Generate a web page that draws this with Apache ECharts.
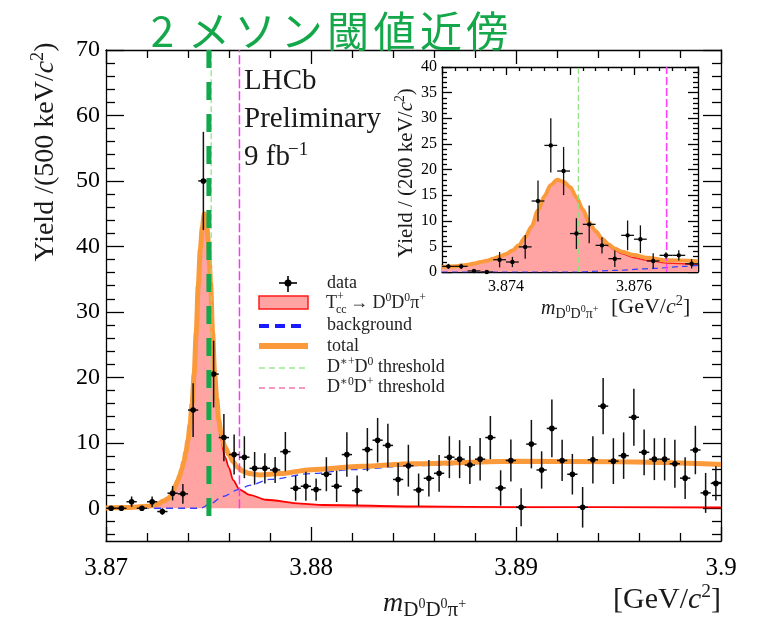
<!DOCTYPE html>
<html><head><meta charset="utf-8">
<script src="https://cdn.jsdelivr.net/npm/echarts@6/dist/echarts.min.js"></script>
<style>html,body{margin:0;padding:0;background:#fff}#c{width:761px;height:623px}</style>
</head><body><div id="c"></div>
<script>
const SERIF = '"Liberation Serif","DejaVu Serif",serif';
const CJK = '"Noto Sans CJK JP","Noto Sans CJK SC",sans-serif';

// ---------- main plot: 500 keV bins from 3.870 GeV ----------
const mainBinStart = 3.870, mainBinWidth = 0.0005;
const mainYield = [0,0,1,0,1,-0.5,2.3,2.2,15,50,
  20.5,10.8,8.2,7.8,6.1,6.1,5.85,8.65,3.05,3.36,
  2.85,5.2,3.36,8.2,2.7,8.96,10.4,9.6,4.4,6.5,
  2.8,4.58,5.34,7.8,7.5,6.6,7.5,10.8,3.1,7.3,
  0.15,9.8,5.85,12.2,7.3,5.2,0.15,7.4,15.6,7.2,
  8.04,13.9,8.55,7.5,7.5,6.8,4.6,8.9,2.35,3.8];
const mainErr = [0,0,0.8,0.3,0.8,0.5,1.1,1.5,4.1,7.5,
  5.1,3.6,3.05,3.2,2.5,2.3,2.0,3.0,1.9,2.2,
  1.7,2.6,2.4,3.4,2.3,3.3,3.4,3.3,2.5,3.2,
  2.5,2.8,2.8,3.2,2.9,2.9,3.25,3.3,2.7,3.2,
  2.9,3.7,2.85,4.4,3.15,3.1,3.1,3.6,4.3,3.5,
  3.55,4.35,3.5,3.2,3.25,3.65,3.2,3.7,3.05,2.6];
const mainSignal = [[3.8700,0.05],[3.8710,0.1],[3.8720,0.3],[3.8725,0.6],[3.8728,1.1],[3.8730,1.4],
  [3.8731,1.7],[3.8732,2.1],[3.8733,2.8],[3.8734,3.5],[3.8735,4.2],[3.8736,5.0],[3.8737,6.0],
  [3.8738,7.2],[3.8739,8.6],[3.8740,10.4],[3.8741,12.8],[3.8742,16.0],[3.8743,20.5],[3.8744,26.8],
  [3.8745,34],[3.8746,39.5],[3.8747,43.0],[3.8748,45],[3.8749,43.8],[3.8750,40.5],[3.8751,34],
  [3.8752,26.2],[3.8753,19.8],[3.8754,16],[3.8755,12.6],[3.8756,10.6],[3.8758,7.9],[3.8760,6.2],
  [3.8762,4.3],[3.8765,2.9],[3.8770,2.06],[3.8778,1.3],[3.8795,0.7],[3.8806,0.5],[3.8853,0.27],
  [3.8900,0.18],[3.9000,0.12]];
const mainTotal = [[3.8700,0.05],[3.8710,0.1],[3.8720,0.3],[3.8725,0.6],[3.8728,1.1],[3.8730,1.4],
  [3.8731,1.7],[3.8732,2.1],[3.8733,2.8],[3.8734,3.5],[3.8735,4.2],[3.8736,5.0],[3.8737,6.0],
  [3.8738,7.2],[3.8739,8.6],[3.8740,10.4],[3.8741,12.8],[3.8742,16.0],[3.8743,20.5],[3.8744,26.8],
  [3.8745,34],[3.8746,39.5],[3.8747,43.0],[3.8748,45],[3.8749,43.8],[3.8750,40.5],[3.8751,34.5],
  [3.8752,26.8],[3.8753,20.5],[3.8754,16.8],[3.8755,13.5],[3.8756,11.6],[3.8758,9.4],[3.8760,8.2],
  [3.8762,7.1],[3.8764,6.3],[3.8767,5.6],[3.8770,5.3],[3.8775,5.1],[3.8785,5.3],[3.8800,5.9],
  [3.8825,6.4],[3.8850,6.8],[3.8900,7.2],[3.8950,7.1],[3.9000,6.7]];
const mainBackground = [[3.8700,0],[3.8746,0],[3.8751,0.7],[3.8757,1.8],[3.8765,2.9],[3.8770,3.5],
  [3.8780,4.4],[3.8800,5.3],[3.8820,5.9],[3.8850,6.5],[3.8900,7.0],[3.8950,6.95],[3.9000,6.55]];

// ---------- inset: 200 keV bins from 3.873 GeV ----------
const insetBinStart = 3.873, insetBinWidth = 0.0002;
const insetYield = [1.1,1.1,0.2,0,2.4,1.95,4.9,13.85,24.7,19.7,7.5,9.3,5.2,2.6,7.15,6.4,2.15,3.25,3.25,1.6];
const insetErr = [0.5,0.5,0.3,0,1.5,1.0,2.3,4.0,5.3,4.7,3.0,3.7,1.6,1.6,2.9,2.7,1.5,0.6,1.0,0.9];
const insetTotal = [[3.8730,1.0],[3.8731,1.05],[3.8732,1.1],[3.8733,1.25],[3.8734,1.4],[3.8735,1.65],
  [3.8736,1.95],[3.8737,2.2],[3.8738,2.6],[3.8739,3.0],[3.8740,3.5],[3.8741,4.2],[3.8742,5.2],
  [3.8743,6.8],[3.8744,8.9],[3.8745,12.0],[3.8746,14.8],[3.8747,17.0],[3.8748,18.0],[3.8749,17.6],
  [3.8750,16.6],[3.8751,14.6],[3.8752,12.2],[3.8753,9.6],[3.8754,8.0],[3.8755,6.5],[3.8756,5.4],
  [3.8757,4.6],[3.8758,4.0],[3.8760,3.3],[3.8762,2.8],[3.8765,2.3],[3.8770,2.1]];
const insetSignal = [[3.8730,1.0],[3.8731,1.05],[3.8732,1.1],[3.8733,1.25],[3.8734,1.4],[3.8735,1.65],
  [3.8736,1.95],[3.8737,2.2],[3.8738,2.6],[3.8739,3.0],[3.8740,3.5],[3.8741,4.2],[3.8742,5.2],
  [3.8743,6.8],[3.8744,8.9],[3.8745,12.0],[3.8746,14.8],[3.8747,17.0],[3.8748,18.0],[3.8749,17.6],
  [3.8750,16.6],[3.8751,14.6],[3.8752,12.2],[3.8753,9.5],[3.8754,7.8],[3.8755,6.3],[3.8756,5.1],
  [3.8757,4.3],[3.8758,3.6],[3.8760,2.8],[3.8762,2.3],[3.8765,1.75],[3.8770,1.4]];
const insetBackground = [[3.8730,0],[3.8751,0],[3.8757,0.3],[3.8763,0.7],[3.8768,1.1],[3.8770,1.3]];

// thresholds and annotation
const thrDstarPlusD0 = 3.87513;
const thrDstar0Dplus = 3.87651;
const annotationX = 3.87502;

// tick labels
const mainXTicks = [3.87, 3.88, 3.89, 3.9];
const mainYTicks = [0, 10, 20, 30, 40, 50, 60, 70];
const insetXTicks = [3.874, 3.876];
const mainYMinor = [];
for (let v = -4; v <= 68; v += 2) if (v % 10 !== 0) mainYMinor.push(v);

const titleText = '2メソン閾値近傍';

// ---------- helpers ----------
const mainData = mainYield.map((v, i) => [mainBinStart + (i + 0.5) * mainBinWidth, v, mainErr[i], mainBinWidth / 2]);
const insetData = insetYield.map((v, i) => [insetBinStart + (i + 0.5) * insetBinWidth, v, insetErr[i], insetBinWidth / 2]);

function errorBars(lw, r) {
  return function (params, api) {
    const x = api.value(0), y = api.value(1), e = api.value(2), hw = api.value(3);
    const c = api.coord([x, y]), t = api.coord([x, y + e]), b = api.coord([x, y - e]);
    const l = api.coord([x - hw, y]), rr = api.coord([x + hw, y]);
    return {type: 'group', children: [
      {type: 'line', shape: {x1: c[0], y1: t[1], x2: c[0], y2: b[1]}, style: {stroke: '#111', lineWidth: lw}},
      {type: 'line', shape: {x1: l[0], y1: c[1], x2: rr[0], y2: c[1]}, style: {stroke: '#111', lineWidth: lw}},
      {type: 'circle', shape: {cx: c[0], cy: c[1], r: r}, style: {fill: '#000'}}
    ]};
  };
}
function curve(data, xi, yi, color, width, z, dash, area) {
  const s = {type: 'line', xAxisIndex: xi, yAxisIndex: yi, data: data, smooth: 0.3, smoothMonotone: 'x',
    symbol: 'none', showSymbol: false, z: z, silent: true,
    lineStyle: {color: color, width: width, type: dash || 'solid'}};
  if (area) s.areaStyle = {color: area, opacity: 1, origin: 'auto'};
  return s;
}
function vline(x, y0, y1, xi, yi, color, width, dash, z) {
  return {type: 'line', xAxisIndex: xi, yAxisIndex: yi, data: [[x, y0], [x, y1]], symbol: 'none', z: z,
    silent: true, lineStyle: {color: color, width: width, type: dash}};
}
function rich(size, color, sub, sup) {
  sub = sub || size * 0.65; sup = sup || size * 0.45;
  return {
    n: {fontSize: size, fontFamily: SERIF, fill: color, lineHeight: size * 1.2},
    i: {fontSize: size, fontFamily: SERIF, fontStyle: 'italic', fill: color, lineHeight: size * 1.2},
    sp: {fontSize: size * 0.65, fontFamily: SERIF, fill: color, verticalAlign: 'top', lineHeight: size * 0.65},
    sb: {fontSize: sub, fontFamily: SERIF, fill: color, verticalAlign: 'bottom', lineHeight: sub},
    ssp: {fontSize: sup, fontFamily: SERIF, fill: color, verticalAlign: 'middle', lineHeight: sup}
  };
}
function txt(x, y, text, size, color, opts) {
  opts = opts || {};
  return {type: 'text', x: x, y: y, rotation: opts.rot || 0, z: 100,
    style: {text: text, rich: rich(size, color, opts.sub, opts.sup), fontSize: size, fontFamily: SERIF, fill: color,
      align: opts.align || 'left', verticalAlign: 'middle'}};
}
const BL = () => ({color: '#000', width: 1.3});
// ticks point into the frame: outward direction with negative length
function xAxisDef(grid, min, max, interval, pos, labels, fontSize, tickLen, minorLen, formatter) {
  return {gridIndex: grid, type: 'value', min: min, max: max, interval: interval, position: pos,
    axisLine: {show: true, onZero: false, lineStyle: BL()},
    axisTick: {show: true, inside: false, length: -tickLen, lineStyle: BL()},
    minorTick: {show: true, splitNumber: 5, length: -minorLen, lineStyle: BL()},
    splitLine: {show: false}, minorSplitLine: {show: false},
    axisLabel: {show: labels, color: '#000', fontFamily: SERIF, fontSize: fontSize, margin: labels === true && fontSize > 20 ? 15 : 7,
      showMinLabel: true, showMaxLabel: true, formatter: formatter}};
}
function yAxisDef(grid, min, max, pos, opts) {
  const a = {gridIndex: grid, type: 'value', min: min, max: max, position: pos,
    axisLine: {show: opts.line !== false, onZero: false, lineStyle: BL()},
    axisTick: {show: true, inside: false, length: -opts.tick, lineStyle: BL()},
    axisLabel: {show: !!opts.labels, color: '#000', fontFamily: SERIF, fontSize: opts.fontSize || 24, margin: opts.margin || 6},
    splitLine: {show: false}, minorSplitLine: {show: false}};
  if (opts.interval) a.interval = opts.interval;
  if (opts.tickValues) a.axisTick.customValues = opts.tickValues;
  if (opts.labelValues) a.axisLabel.customValues = opts.labelValues;
  if (opts.minor) a.minorTick = {show: true, splitNumber: 5, length: -opts.minor, lineStyle: BL()};
  return a;
}

const option = {
  animation: false,
  backgroundColor: '#fff',
  grid: [
    {left: 106, top: 50, width: 615, height: 491, show: false},
    {left: 442, top: 67, width: 256, height: 205, show: false},
    {left: 106, top: 50, width: 615, height: 491, show: false}
  ],
  xAxis: [
    xAxisDef(0, 3.87, 3.9, 0.01, 'bottom', true, 25, 14, 8, v => String(parseFloat(v.toFixed(3)))),
    xAxisDef(0, 3.87, 3.9, 0.01, 'top', false, 25, 14, 8),
    xAxisDef(1, 3.873, 3.877, 0.001, 'bottom', true, 16, 8, 4,
      v => insetXTicks.some(t => Math.abs(t - v) < 1e-7) ? v.toFixed(3) : ''),
    xAxisDef(1, 3.873, 3.877, 0.001, 'top', false, 16, 8, 4),
    {gridIndex: 2, type: 'value', min: 3.87, max: 3.9, show: false}
  ],
  yAxis: [
    yAxisDef(0, -5, 70, 'left', {tick: 18, tickValues: mainYTicks, labels: true, labelValues: mainYTicks, fontSize: 24, margin: 6}),
    yAxisDef(0, -5, 70, 'right', {tick: 18, tickValues: mainYTicks}),
    yAxisDef(2, -5, 70, 'left', {tick: 9, tickValues: mainYMinor, line: false}),
    yAxisDef(2, -5, 70, 'right', {tick: 9, tickValues: mainYMinor, line: false}),
    yAxisDef(1, 0, 40, 'left', {tick: 10, interval: 5, minor: 5, labels: true, fontSize: 16, margin: 5}),
    yAxisDef(1, 0, 40, 'right', {tick: 10, interval: 5, minor: 5})
  ],
  series: [
    curve(mainSignal, 0, 0, '#ff0000', 1.8, 2, 'solid', '#ffa3a3'),
    curve(mainBackground, 0, 0, '#3340ff', 1.3, 3, [7, 5]),
    curve(mainTotal, 0, 0, '#fb9a3a', 5, 4),
    vline(thrDstarPlusD0, 0, 70, 0, 0, '#8fe27f', 1.2, [6, 3], 5),
    vline(thrDstar0Dplus, 0, 70, 0, 0, '#ff33ff', 1.5, [9, 3], 5),
    {type: 'custom', xAxisIndex: 0, yAxisIndex: 0, data: mainData, encode: {x: 0, y: 1},
      renderItem: errorBars(1.5, 2.8), z: 6, silent: true},
    vline(annotationX, 70, -1.5, 0, 0, '#12a84b', 5, [18, 14], 7),
    curve(insetSignal, 2, 4, '#ff2020', 1.5, 12, 'solid', '#ffa3a3'),
    curve(insetBackground, 2, 4, '#3340ff', 1.2, 13, [6, 4]),
    curve(insetTotal, 2, 4, '#fb9a3a', 4, 14),
    vline(thrDstarPlusD0, 0, 40, 2, 4, '#8fe27f', 1.2, [6, 3], 15),
    vline(thrDstar0Dplus, 0, 40, 2, 4, '#ff40ff', 1.6, [8, 3], 15),
    {type: 'custom', xAxisIndex: 2, yAxisIndex: 4, data: insetData, encode: {x: 0, y: 1},
      renderItem: errorBars(1.3, 2.2), z: 16, silent: true}
  ],
  graphic: {elements: [
    {type: 'text', x: 139.3, y: 31, z: 100, style: {
      text: titleText.split('').map(ch => '{a|' + ch + '}').join(''),
      rich: {a: {width: 46.4, align: 'center', fontSize: 42, fontFamily: CJK, fill: '#14a84b'}},
      fontSize: 42, fontFamily: CJK, fill: '#14a84b', align: 'left', verticalAlign: 'middle'}},
    txt(244, 81, '{n|LHCb}', 29, '#1a1a1a'),
    txt(244, 119, '{n|Preliminary}', 29, '#1a1a1a'),
    txt(244, 157, '{n|9 fb}', 29, '#1a1a1a'),
    txt(288, 150, '{n|−1}', 19, '#1a1a1a'),
    txt(46, 152, '{n|Yield /(500 keV/}{i|c}{sp|2}{n|)}', 28, '#1a1a1a', {rot: Math.PI / 2, align: 'center'}),
    txt(383, 604, '{i|m}{sb|D}{ssp|0}{sb|D}{ssp|0}{sb|π}{ssp|+}', 28, '#1a1a1a', {sub: 21, sup: 14}),
    txt(613, 600, '{n|[GeV/}{i|c}{sp|2}{n|]}', 30, '#1a1a1a'),
    txt(406, 173, '{n|Yield / (200 keV/}{i|c}{sp|2}{n|)}', 21, '#1a1a1a', {rot: Math.PI / 2, align: 'center'}),
    txt(541, 309, '{i|m}{sb|D}{ssp|0}{sb|D}{ssp|0}{sb|π}{ssp|+}', 20, '#1a1a1a', {sub: 14, sup: 10}),
    txt(611, 307, '{n|[GeV/}{i|c}{sp|2}{n|]}', 22, '#1a1a1a'),
    {type: 'line', z: 100, shape: {x1: 288, y1: 276, x2: 288, y2: 292}, style: {stroke: '#000', lineWidth: 1.6}},
    {type: 'line', z: 100, shape: {x1: 279, y1: 283, x2: 297, y2: 283}, style: {stroke: '#000', lineWidth: 1.6}},
    {type: 'circle', z: 100, shape: {cx: 288, cy: 283, r: 3.5}, style: {fill: '#000'}},
    {type: 'rect', z: 100, shape: {x: 259, y: 296, width: 49, height: 13}, style: {fill: '#ffa3a3', stroke: '#ff1a1a', lineWidth: 1.5}},
    {type: 'line', z: 100, shape: {x1: 259, y1: 326, x2: 304, y2: 326}, style: {stroke: '#1a1aff', lineWidth: 4, lineDash: [10, 6]}},
    {type: 'line', z: 100, shape: {x1: 259, y1: 346, x2: 308, y2: 346}, style: {stroke: '#fb9a3a', lineWidth: 6}},
    {type: 'line', z: 100, shape: {x1: 259, y1: 368, x2: 308, y2: 368}, style: {stroke: '#66e05a', lineWidth: 1.2, lineDash: [6, 4]}},
    {type: 'line', z: 100, shape: {x1: 259, y1: 388, x2: 308, y2: 388}, style: {stroke: '#e8308c', lineWidth: 1.2, lineDash: [6, 4]}},
    txt(327, 283, '{n|data}', 18, '#222'),
    txt(326, 303, '{n|T}', 18, '#222'),
    txt(337, 297, '{n|+}', 12, '#222'),
    txt(336, 310, '{n|cc}', 12, '#222'),
    txt(350, 303, '{n|→ D}{sp|0}{n|D}{sp|0}{n|π}{sp|+}', 18, '#222'),
    txt(327, 325, '{n|background}', 18, '#222'),
    txt(327, 346, '{n|total}', 18, '#222'),
    txt(327, 367, '{n|D}{sp|∗+}{n|D}{sp|0}{n| threshold}', 18, '#222'),
    txt(327, 387, '{n|D}{sp|∗0}{n|D}{sp|+}{n| threshold}', 18, '#222')
  ]}
};
const chart = echarts.init(document.getElementById('c'));
chart.setOption(option);
</script></body></html>
